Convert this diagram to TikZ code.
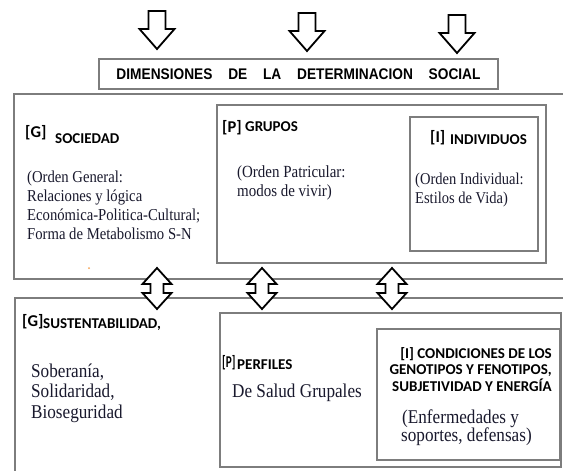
\documentclass[tikz,border=0pt]{standalone}
\usepackage{fontspec}
\newfontfamily\tnrfont[FakeStretch=0.88]{Liberation Serif}
\newfontfamily\calfont{Carlito}
\newfontfamily\calnarrow[FakeStretch=0.68]{Carlito}
\newfontfamily\arifont[FakeStretch=0.89]{Liberation Sans}
\definecolor{boxgray}{RGB}{125,125,125}
\definecolor{txtcol}{RGB}{25,25,45}
\definecolor{dotorange}{RGB}{245,160,80}
\begin{document}
\begin{tikzpicture}[x=1pt,y=-1pt,
  box/.style={draw=boxgray, line width=1.3pt},
  arr/.style={draw=black, line width=1.8pt, fill=white, line join=miter},
  lbl/.style={anchor=base west, inner sep=0pt, text=black, font=\calfont\bfseries\fontsize{15}{18}\selectfont},
  tag/.style={anchor=base west, inner sep=0pt, text=black, font=\calfont\bfseries\fontsize{16.5}{18}\selectfont},
  body/.style={anchor=base west, inner sep=0pt, text=txtcol},
  downarr/.pic={\draw[arr] (-8.5,0) -- (8.5,0) -- (8.5,18) -- (17.5,18) -- (0,38) -- (-17.5,18) -- (-8.5,18) -- cycle;},
  dblarr/.pic={\draw[arr] (0,0) -- (14.5,16) -- (6.5,16) -- (6.5,25) -- (14.5,25) -- (0,41) -- (-14.5,25) -- (-6.5,25) -- (-6.5,16) -- (-14.5,16) -- cycle;}
]
\useasboundingbox (0,0) rectangle (563,471);
\fill[white] (0,0) rectangle (563,471);

% top arrows
\pic at (157,11) {downarr};
\pic at (307,13) {downarr};
\pic at (457,15) {downarr};

% title
\node[box, minimum width=399pt, minimum height=30pt, inner sep=0pt,
      font=\arifont\bfseries\fontsize{15.4}{18}\selectfont] (title) at (298.5,74)
  {DIMENSIONES\hspace{12pt} DE\hspace{12pt} LA\hspace{12pt} DETERMINACION\hspace{12pt} SOCIAL};

% upper boxes
\draw[box] (14,94) rectangle (568,279);
\draw[box] (217,105) rectangle (546,263);
\draw[box] (410,117) rectangle (538,251);

% lower boxes
\draw[box] (15,298) rectangle (568,474);
\draw[box] (220,313) rectangle (561,467);
\draw[box] (377,329) rectangle (560,460);

% double arrows
\pic at (157,268) {dblarr};
\pic at (262,268) {dblarr};
\pic at (392,268) {dblarr};

% orange speck
\fill[dotorange] (89,268) circle (1pt);

% SOCIEDAD
\node[tag] (gs) at (25,137) {[G]};
\node[lbl] (soc) at (55,143) {SOCIEDAD};
\node[body, font=\tnrfont\fontsize{16.7}{19}\selectfont] (socb1) at (27,182.7) {(Orden General:};
\node[body, font=\tnrfont\fontsize{16.7}{19}\selectfont] (socb2) at (27,201.7) {Relaciones y lógica};
\node[body, font=\tnrfont\fontsize{16.7}{19}\selectfont] (socb3) at (27,220.7) {Económica-Politica-Cultural;};
\node[body, font=\tnrfont\fontsize{16.7}{19}\selectfont] (socb4) at (27,239.5) {Forma de Metabolismo S-N};

% GRUPOS
\node[tag] (pg) at (222,132) {[P]};
\node[lbl] (gru) at (245,131) {GRUPOS};
\node[body, font=\tnrfont\fontsize{17}{19}\selectfont] (grub1) at (237,177) {(Orden Patricular:};
\node[body, font=\tnrfont\fontsize{17}{19}\selectfont] (grub2) at (237,196) {modos de vivir)};

% INDIVIDUOS
\node[tag] (ii) at (430,142) {[I]};
\node[lbl] (ind) at (450,144) {INDIVIDUOS};
\node[body, font=\tnrfont\fontsize{16.5}{19}\selectfont] (indb1) at (415,184) {(Orden Individual:};
\node[body, font=\tnrfont\fontsize{16.5}{19}\selectfont] (indb2) at (415,203) {Estilos de Vida)};

% SUSTENTABILIDAD
\node[tag] (gsu) at (22,326) {[G]};
\node[lbl] (sus) at (43,328) {SUSTENTABILIDAD,};
\node[body, font=\tnrfont\fontsize{19.5}{21}\selectfont] (susb1) at (31,377) {Soberanía,};
\node[body, font=\tnrfont\fontsize{19.5}{21}\selectfont] (susb2) at (31,397.5) {Solidaridad,};
\node[body, font=\tnrfont\fontsize{19.5}{21}\selectfont] (susb3) at (31,418) {Bioseguridad};

% PERFILES
\node[tag, font=\calnarrow\bfseries\fontsize{16.5}{18}\selectfont] (pp) at (222,367) {[P]};
\node[lbl] (per) at (237,369) {PERFILES};
\node[body, font=\tnrfont\fontsize{19.5}{21}\selectfont] (perb) at (232,397) {De Salud Grupales};

% CONDICIONES
\node[lbl, anchor=base east] (con1) at (552,358) {[I] CONDICIONES DE LOS};
\node[lbl, anchor=base east] (con2) at (552,374.5) {GENOTIPOS Y FENOTIPOS,};
\node[lbl, anchor=base east] (con3) at (552,391.5) {SUBJETIVIDAD Y ENERGÍA};
\node[body, font=\tnrfont\fontsize{19.5}{21}\selectfont] (conb1) at (402,423) {(Enfermedades y};
\node[body, font=\tnrfont\fontsize{19.5}{21}\selectfont] (conb2) at (401,441) {soportes, defensas)};
\end{tikzpicture}
\end{document}
